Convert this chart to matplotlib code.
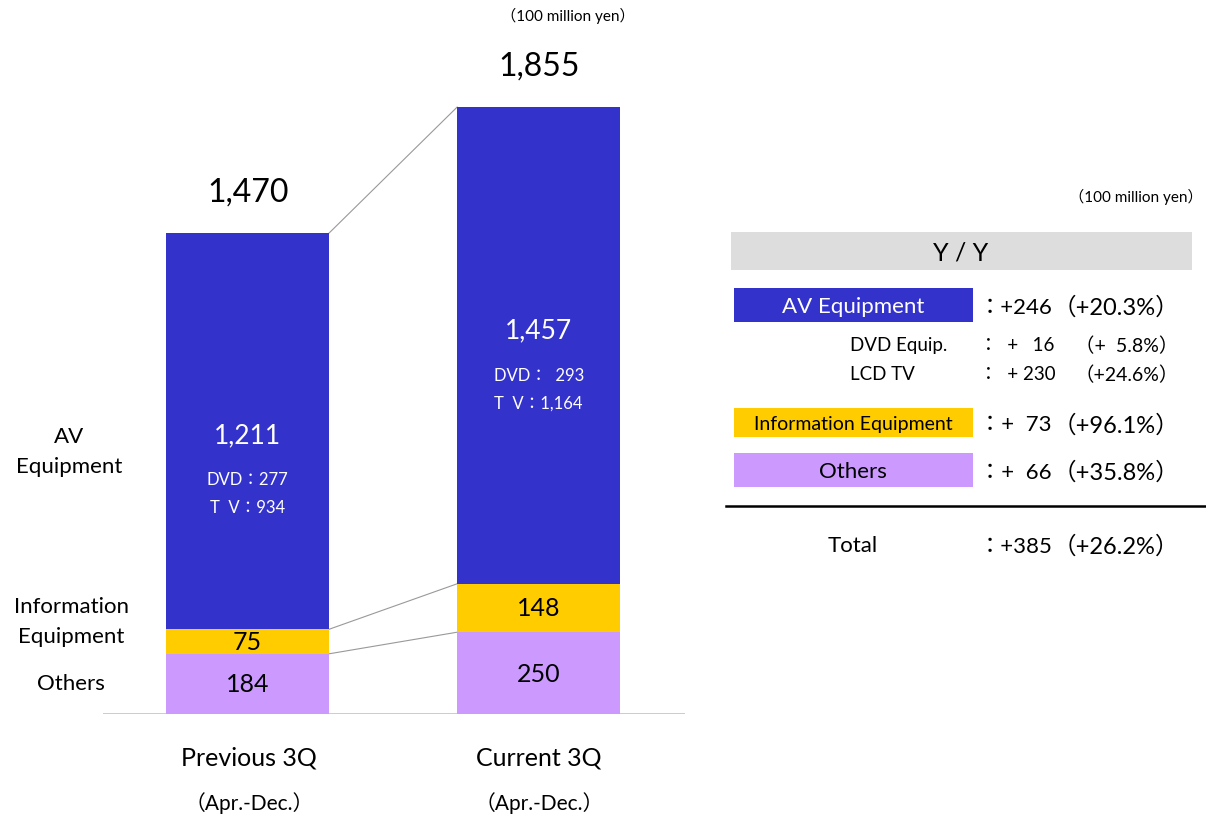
import matplotlib
matplotlib.use("Agg")
import matplotlib.pyplot as plt
from matplotlib.patches import Rectangle

plt.rcParams['font.family'] = ['Lato', 'Noto Sans CJK JP', 'DejaVu Sans']

# ---------------- data ----------------
periods = ["Previous 3Q", "Current 3Q"]
period_sub = ["（Apr.-Dec.）", "（Apr.-Dec.）"]
others = [184, 250]
info = [75, 148]
av = [1211, 1457]
totals = [1470, 1855]
dvd_labels = ["DVD：277", "DVD：  293"]
tv_labels = ["T  V：934", "T  V：1,164"]
segment_names = ["AV\nEquipment", "Information\nEquipment", "Others"]

yy_rows = ["AV Equipment", "Information Equipment", "Others"]
yy_diff = ["：+246", "：+  73", "：+  66"]
yy_pct = ["（+20.3%）", "（+96.1%）", "（+35.8%）"]
sub_rows = ["DVD Equip.", "LCD TV"]
sub_diff = ["：  +   16", "：  + 230"]
sub_pct = ["（+  5.8%）", "（+24.6%）"]
total_diff = "：+385"
total_pct = "（+26.2%）"

C_AV = "#3333CC"
C_INFO = "#FFCC00"
C_OTH = "#CC99FF"

W, H = 1206, 820
fig = plt.figure(figsize=(W / 100, H / 100), dpi=100)

# main bar axes (pixel-calibrated)
ax_l, ax_r, ax_b, ax_t = 103, 685, 715, 41
ax = fig.add_axes([ax_l / W, (H - ax_b) / H, (ax_r - ax_l) / W, (ax_b - ax_t) / H])
ax.set_xlim(-0.497, 1.503)
ax.set_ylim(0, 2060)
ax.axis('off')
ax.axhline(0, color='black', lw=1.0, xmin=0, xmax=1)

x = [0, 1]
bw = 0.56
ax.bar(x, others, width=bw, color=C_OTH, zorder=2)
ax.bar(x, info, width=bw, bottom=others, color=C_INFO, zorder=2)
bot_av = [o + i for o, i in zip(others, info)]
ax.bar(x, av, width=bw, bottom=bot_av, color=C_AV, zorder=2)

# connecting lines
tops_oth = others
tops_info = bot_av
tops_tot = [b + a for b, a in zip(bot_av, av)]
for tops in (tops_oth, tops_info, tops_tot):
    ax.plot([x[0] + bw / 2, x[1] - bw / 2], [tops[0], tops[1]], color='#999999', lw=0.8, zorder=1)

main_off = [-2.5, 11]      # points offset of AV main label
for i in range(2):
    c_av = bot_av[i] + av[i] / 2
    ax.annotate(f"{av[i]:,}", (x[i], c_av), xytext=(0, main_off[i]), textcoords='offset points',
                ha='center', va='center', color='white', fontsize=19)
    ax.annotate(dvd_labels[i], (x[i], c_av), xytext=(0, main_off[i] - 32), textcoords='offset points',
                ha='center', va='center', color='white', fontsize=12)
    ax.annotate(tv_labels[i], (x[i], c_av), xytext=(0, main_off[i] - 52), textcoords='offset points',
                ha='center', va='center', color='white', fontsize=12)
    ax.text(x[i], others[i] + info[i] / 2, f"{info[i]:,}", ha='center', va='center', fontsize=18, color='black')
    ax.text(x[i], others[i] / 2, f"{others[i]:,}", ha='center', va='center', fontsize=18, color='black')
    ax.annotate(f"{totals[i]:,}", (x[i], totals[i]), xytext=(0, 30), textcoords='offset points',
                ha='center', va='center', fontsize=23, color='black', annotation_clip=False)

# overlay axes in pixel coordinates for labels and table
ov = fig.add_axes([0, 0, 1, 1])
ov.set_xlim(0, W)
ov.set_ylim(H, 0)
ov.axis('off')
ov.patch.set_alpha(0)

# left segment names
ov.text(69, 452, segment_names[0], ha='center', va='center', fontsize=16, linespacing=1.65)
ov.text(71, 622, segment_names[1], ha='center', va='center', fontsize=16, linespacing=1.65)
ov.text(71, 684, segment_names[2], ha='center', va='center', fontsize=16)

# x labels
for cx, p, s in zip([249, 539], periods, period_sub):
    ov.text(cx, 758, p, ha='center', va='center', fontsize=18)
    ov.text(cx, 803, s, ha='center', va='center', fontsize=15)

ov.text(568, 16, "（100 million yen）", ha='center', va='center', fontsize=11)
ov.text(1203, 197, "（100 million yen）", ha='right', va='center', fontsize=11)

# table header
ov.add_patch(Rectangle((731, 233), 461, 38, color='#DDDDDD', lw=0))
ov.text(961, 253, "Y / Y", ha='center', va='center', fontsize=18)

# category boxes
box_y = [(289, 323), (409, 438), (454, 488)]
box_c = [C_AV, C_INFO, C_OTH]
txt_c = ['white', 'black', 'black']
txt_s = [16, 14, 16]
for (y0, y1), bc, tc, ts, name, d, p in zip(box_y, box_c, txt_c, txt_s, yy_rows, yy_diff, yy_pct):
    ov.add_patch(Rectangle((734, y0), 239, y1 - y0, color=bc, lw=0))
    yc = (y0 + y1) / 2 + 1
    ov.text(853, yc, name, ha='center', va='center', fontsize=ts, color=tc)
    ov.text(979, yc + 1, d, ha='left', va='center', fontsize=16)
    ov.text(1116, yc + 1, p, ha='center', va='center', fontsize=17)

for yc, name, d, p in zip([346, 375], sub_rows, sub_diff, sub_pct):
    ov.text(850, yc, name, ha='left', va='center', fontsize=13.5)
    ov.text(979, yc, d, ha='left', va='center', fontsize=13.5)
    ov.text(1127, yc, p, ha='center', va='center', fontsize=14)

ov.plot([726, 1205], [507, 507], color='black', lw=1.8)
ov.text(853, 546, "Total", ha='center', va='center', fontsize=16)
ov.text(979, 547, total_diff, ha='left', va='center', fontsize=16)
ov.text(1116, 547, total_pct, ha='center', va='center', fontsize=17)

fig.savefig("out.png", dpi=100)
